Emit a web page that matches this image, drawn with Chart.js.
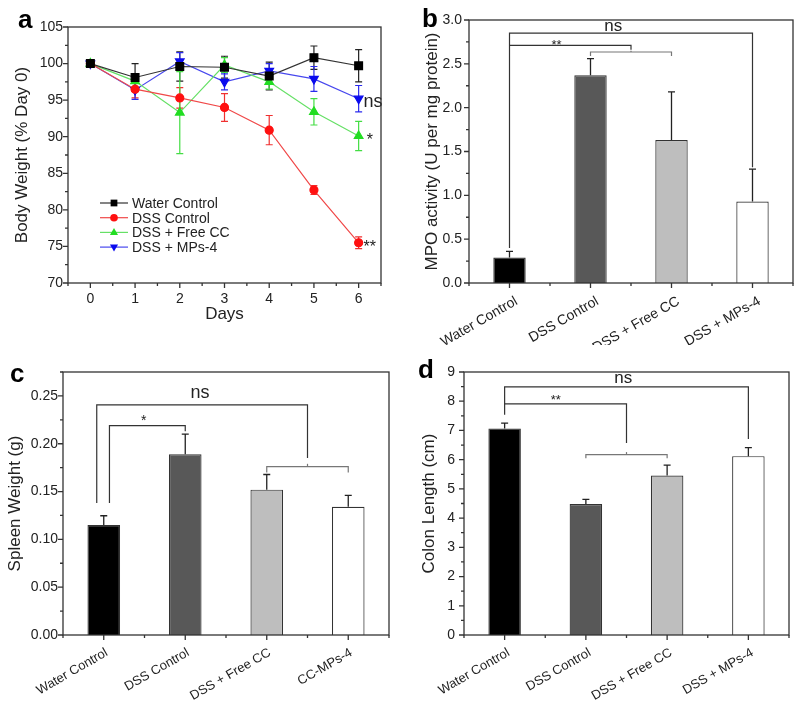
<!DOCTYPE html>
<html>
<head>
<meta charset="utf-8">
<script src="https://cdn.jsdelivr.net/npm/chart.js@4.4.1/dist/chart.umd.min.js"></script>
<style>
  html, body { margin: 0; padding: 0; background: #fff; }
  #wrap { position: relative; width: 800px; height: 713px; overflow: hidden; }
  .panel { position: absolute; }
</style>
</head>
<body>
<div id="wrap">
  <div class="panel" style="left:0;top:0;width:400px;height:330px"><canvas id="chartA"></canvas></div>
  <div class="panel" style="left:0;top:330px;width:400px;height:383px"><canvas id="chartC"></canvas></div>
  <div class="panel" style="left:400px;top:330px;width:400px;height:383px"><canvas id="chartD"></canvas></div>
  <div class="panel" style="left:400px;top:0;width:400px;height:345px"><canvas id="chartB"></canvas></div>
</div>
<script>
// ---- panel a: body weight over time ----
const days = ['0', '1', '2', '3', '4', '5', '6'];
const waterControl = [100, 98.1, 99.6, 99.5, 98.3, 100.8, 99.7];
const waterControlErr = [0, 1.9, 2.0, 1.5, 1.9, 1.6, 2.2];
const dssControl = [100, 96.5, 95.3, 94.0, 90.9, 82.7, 75.5];
const dssControlErr = [0, 1.2, 1.4, 1.9, 2.0, 0.6, 0.8];
const dssFreeCC = [100, 97.6, 93.3, 99.8, 97.5, 93.4, 90.1];
const dssFreeCCErr = [0, 1.0, 5.6, 1.0, 1.0, 1.8, 2.0];
const dssMPs4 = [100, 96.4, 100.3, 97.5, 99.0, 97.9, 95.2];
const dssMPs4Err = [0, 1.3, 1.2, 1.1, 1.0, 1.7, 1.8];
const notesA = [
  { text: 'ns', x: 6.11, y: 94.1, size: 18 },
  { text: '*', x: 6.18, y: 88.8, size: 16 },
  { text: '**', x: 6.11, y: 74.3, size: 16 }
];

// ---- panel b: MPO activity ----
const groupsB = ['Water Control', 'DSS Control', 'DSS + Free CC', 'DSS + MPs-4'];
const mpoActivity = [0.29, 2.37, 1.63, 0.93];
const mpoErr = [0.07, 0.19, 0.55, 0.37];
const bracketsB = [
  [[0, 0.40], [0, 2.85], [3, 2.85], [3, 1.32]],
  [[0, 2.71], [1.5, 2.71], [1.5, 2.66]]
];
const subBracketsB = [
  [[1, 2.59], [1, 2.635], [2, 2.635], [2, 2.59]],
  [[1.5, 2.635], [1.5, 2.65]]
];
const notesB = [
  { text: 'ns', x: 1.28, y: 2.875, size: 17 },
  { text: '**', x: 0.58, y: 2.67, size: 13 }
];

// ---- panel c: spleen weight ----
const groupsC = ['Water Control', 'DSS Control', 'DSS + Free CC', 'CC-MPs-4'];
const spleenWeight = [0.115, 0.189, 0.152, 0.134];
const spleenErr = [0.0097, 0.021, 0.0158, 0.012];
const bracketsC = [
  [[-0.086, 0.138], [-0.086, 0.2406], [2.5, 0.2406], [2.5, 0.185]],
  [[0.07, 0.138], [0.07, 0.219], [1, 0.219], [1, 0.213]]
];
const subBracketsC = [
  [[2, 0.170], [2, 0.176], [3, 0.176], [3, 0.170]],
  [[2.5, 0.176], [2.5, 0.179]]
];
const notesC = [
  { text: 'ns', x: 1.18, y: 0.248, size: 18 },
  { text: '*', x: 0.49, y: 0.220, size: 14 }
];

// ---- panel d: colon length ----
const groupsD = ['Water Control', 'DSS Control', 'DSS + Free CC', 'DSS + MPs-4'];
const colonLength = [7.07, 4.48, 5.46, 6.12];
const colonErr = [0.18, 0.16, 0.35, 0.29];
const bracketsD = [
  [[0, 7.54], [0, 8.49], [3, 8.49], [3, 6.71]],
  [[0, 7.91], [1.5, 7.91], [1.5, 6.57]]
];
const subBracketsD = [
  [[1, 6.05], [1, 6.17], [2, 6.17], [2, 6.05]],
  [[1.5, 6.17], [1.5, 6.26]]
];
const notesD = [
  { text: 'ns', x: 1.46, y: 8.62, size: 17 },
  { text: '**', x: 0.63, y: 7.90, size: 13 }
];

const barFills = ['#000000', '#585858', '#bebebe', '#ffffff'];

const FONT = "'Liberation Sans', Arial, sans-serif";
const AXIS = '#333333';
const TEXT = '#222222';

function drawMarker(ctx, style, x, y, r, color) {
  ctx.save();
  ctx.fillStyle = color;
  ctx.beginPath();
  if (style === 'rect') {
    ctx.rect(x - r * 0.75, y - r * 0.75, r * 1.5, r * 1.5);
  } else if (style === 'circle') {
    ctx.arc(x, y, r * 0.85, 0, Math.PI * 2);
  } else if (style === 'up') {
    ctx.moveTo(x, y - r); ctx.lineTo(x + r * 0.9, y + r * 0.6); ctx.lineTo(x - r * 0.9, y + r * 0.6);
  } else {
    ctx.moveTo(x, y + r); ctx.lineTo(x + r * 0.9, y - r * 0.6); ctx.lineTo(x - r * 0.9, y - r * 0.6);
  }
  ctx.closePath();
  ctx.fill();
  ctx.restore();
}

function polyline(ctx, chart, pts) {
  const xs = chart.scales.x, ys = chart.scales.y;
  ctx.beginPath();
  pts.forEach((p, i) => {
    const px = xs.getPixelForValue(p[0]), py = ys.getPixelForValue(p[1]);
    if (i === 0) ctx.moveTo(px, py); else ctx.lineTo(px, py);
  });
  ctx.stroke();
}

// everything the library does not draw on its own: frame, ticks, error bars, brackets, labels
function panelDecor(cfg) {
  return {
    id: 'decor',
    beforeDatasetsDraw(chart) {
      if (cfg.type !== 'line') return;
      const ctx = chart.ctx, ys = chart.scales.y;
      chart.data.datasets.forEach((ds, di) => {
        const meta = chart.getDatasetMeta(di);
        ctx.save();
        ctx.strokeStyle = ds.errColor;
        ctx.lineWidth = 1.2;
        ds.data.forEach((v, i) => {
          const e = ds.errs[i];
          if (!e) return;
          const x = meta.data[i].x;
          const y1 = ys.getPixelForValue(v - e), y2 = ys.getPixelForValue(v + e);
          ctx.beginPath();
          ctx.moveTo(x, y1); ctx.lineTo(x, y2);
          ctx.moveTo(x - 3.5, y1); ctx.lineTo(x + 3.5, y1);
          ctx.moveTo(x - 3.5, y2); ctx.lineTo(x + 3.5, y2);
          ctx.stroke();
        });
        ctx.restore();
      });
    },
    afterDatasetsDraw(chart) {
      const ctx = chart.ctx, xs = chart.scales.x, ys = chart.scales.y;
      if (cfg.type === 'bar') {
        const ds = chart.data.datasets[0];
        const meta = chart.getDatasetMeta(0);
        ctx.save();
        ctx.strokeStyle = '#222';
        ctx.lineWidth = 1.3;
        ds.data.forEach((v, i) => {
          const x = meta.data[i].x;
          const y1 = ys.getPixelForValue(v), y2 = ys.getPixelForValue(v + ds.errs[i]);
          ctx.beginPath();
          ctx.moveTo(x, y1); ctx.lineTo(x, y2);
          ctx.moveTo(x - 3.5, y2); ctx.lineTo(x + 3.5, y2);
          ctx.stroke();
        });
        ctx.restore();
      }
      ctx.save();
      ctx.lineWidth = 1.2;
      ctx.strokeStyle = '#333';
      (cfg.brackets || []).forEach(b => polyline(ctx, chart, b));
      ctx.strokeStyle = '#777';
      (cfg.subBrackets || []).forEach(b => polyline(ctx, chart, b));
      ctx.fillStyle = TEXT;
      ctx.textBaseline = 'alphabetic';
      ctx.textAlign = cfg.type === 'line' ? 'left' : 'center';
      (cfg.notes || []).forEach(n => {
        ctx.font = n.size + 'px ' + FONT;
        ctx.fillText(n.text, xs.getPixelForValue(n.x), ys.getPixelForValue(n.y));
      });
      ctx.restore();
    },
    afterDraw(chart) {
      const ctx = chart.ctx, a = chart.chartArea, xs = chart.scales.x, ys = chart.scales.y;
      ctx.save();
      ctx.strokeStyle = AXIS;
      ctx.lineWidth = 1.3;
      ctx.strokeRect(a.left, a.top, a.right - a.left, a.bottom - a.top);
      ctx.beginPath();
      ys.ticks.forEach(t => {
        const y = ys.getPixelForValue(t.value);
        ctx.moveTo(a.left, y); ctx.lineTo(a.left - 5, y);
      });
      for (let v = ys.min; v <= ys.max + 1e-9; v += cfg.minorY) {
        const y = ys.getPixelForValue(v);
        ctx.moveTo(a.left, y); ctx.lineTo(a.left - 3, y);
      }
      const n = chart.data.labels.length;
      for (let i = 0; i < n; i++) {
        const x = xs.getPixelForValue(i);
        ctx.moveTo(x, a.bottom); ctx.lineTo(x, a.bottom + 5);
      }
      for (let i = -0.5; i <= n - 0.5; i += 1) {
        const x = xs.getPixelForValue(i);
        ctx.moveTo(x, a.bottom); ctx.lineTo(x, a.bottom + 3);
      }
      ctx.stroke();

      if (cfg.legend) {
        ctx.font = '14px ' + FONT;
        ctx.textBaseline = 'middle';
        ctx.textAlign = 'left';
        chart.data.datasets.forEach((ds, i) => {
          const y = cfg.legend.y + i * cfg.legend.step;
          const x = cfg.legend.x;
          ctx.strokeStyle = ds.borderColor;
          ctx.lineWidth = 1.2;
          ctx.beginPath(); ctx.moveTo(x, y); ctx.lineTo(x + 28, y); ctx.stroke();
          drawMarker(ctx, ds.marker, x + 14, y, 4.5, ds.pointBackgroundColor);
          ctx.fillStyle = TEXT;
          ctx.fillText(ds.label, x + 32, y + 1);
        });
      }

      ctx.fillStyle = '#000';
      ctx.font = 'bold 26px ' + FONT;
      ctx.textAlign = 'left';
      ctx.textBaseline = 'alphabetic';
      ctx.fillText(cfg.letter.text, cfg.letter.x, cfg.letter.y);
      ctx.restore();
    }
  };
}

function yAxis(cfg) {
  return {
    min: cfg.min,
    max: cfg.max,
    grid: { display: false, drawTicks: false },
    border: { display: false },
    ticks: {
      stepSize: cfg.step,
      callback: v => v.toFixed(cfg.dec),
      font: { family: FONT, size: 14 },
      color: TEXT,
      padding: cfg.tickPad
    },
    afterBuildTicks: s => { s.ticks = s.ticks.filter(t => t.value <= cfg.tickMax + 1e-9); },
    title: {
      display: true,
      text: cfg.title,
      font: { family: FONT, size: 17 },
      color: TEXT,
      padding: { top: cfg.titlePad, bottom: 0 }
    },
    afterFit: s => { s.width = cfg.left; }
  };
}

function barChart(id, labels, values, errs, cfg) {
  return new Chart(document.getElementById(id), {
    type: 'bar',
    data: {
      labels: labels,
      datasets: [{
        data: values,
        errs: errs,
        backgroundColor: barFills,
        borderColor: '#333',
        borderWidth: 1.2,
        barPercentage: 0.4,
        categoryPercentage: 1
      }]
    },
    options: {
      responsive: true,
      maintainAspectRatio: false,
      animation: false,
      layout: { padding: cfg.pad },
      plugins: { legend: { display: false }, tooltip: { enabled: false } },
      scales: {
        x: {
          grid: { display: false, drawTicks: false },
          border: { display: false },
          ticks: {
            font: { family: FONT, size: cfg.labelSize },
            color: TEXT,
            minRotation: 30,
            maxRotation: 30,
            autoSkip: false,
            labelOffset: cfg.labelShift,
            padding: 10
          },
          afterFit: s => { s.height = cfg.bottom; }
        },
        y: yAxis(cfg)
      }
    },
    plugins: [panelDecor(cfg)]
  });
}

// panel a
new Chart(document.getElementById('chartA'), {
  type: 'line',
  data: {
    labels: days,
    datasets: [
      { label: 'Water Control', data: waterControl, errs: waterControlErr, marker: 'rect',
        borderColor: '#333333', pointBackgroundColor: '#000000', pointBorderColor: '#000000', errColor: '#222222',
        pointStyle: 'rect', pointRadius: 5.5, borderWidth: 1.2 },
      { label: 'DSS Control', data: dssControl, errs: dssControlErr, marker: 'circle',
        borderColor: '#f04848', pointBackgroundColor: '#ff1010', pointBorderColor: '#ff1010', errColor: '#f03030',
        pointStyle: 'circle', pointRadius: 4, borderWidth: 1.2 },
      { label: 'DSS + Free CC', data: dssFreeCC, errs: dssFreeCCErr, marker: 'up',
        borderColor: '#66e066', pointBackgroundColor: '#22dd22', pointBorderColor: '#22dd22', errColor: '#44dd44',
        pointStyle: 'triangle', pointRadius: 5, borderWidth: 1.2 },
      { label: 'DSS + MPs-4', data: dssMPs4, errs: dssMPs4Err, marker: 'down',
        borderColor: '#4848ee', pointBackgroundColor: '#0a0aee', pointBorderColor: '#0a0aee', errColor: '#2a2aee',
        pointStyle: 'triangle', pointRotation: 180, pointRadius: 5, borderWidth: 1.2 }
    ]
  },
  options: {
    responsive: true,
    maintainAspectRatio: false,
    animation: false,
    layout: { padding: { top: 27, right: 19, left: 0, bottom: 0 } },
    plugins: { legend: { display: false }, tooltip: { enabled: false } },
    scales: {
      x: {
        offset: true,
        grid: { display: false, drawTicks: false },
        border: { display: false },
        ticks: { font: { family: FONT, size: 14 }, color: TEXT, padding: 8 },
        title: { display: true, text: 'Days', font: { family: FONT, size: 17 }, color: TEXT, padding: { top: 0, bottom: 5 } },
        afterFit: s => { s.height = 47; }
      },
      y: yAxis({ min: 70, max: 105, step: 5, dec: 0, tickMax: 105, tickPad: 5,
        title: 'Body Weight (% Day 0)', titlePad: 12, left: 68 })
    }
  },
  plugins: [panelDecor({
    type: 'line', minorY: 2.5, notes: notesA,
    legend: { x: 100, y: 203, step: 14.7 },
    letter: { text: 'a', x: 18, y: 28 }
  })]
});

// panel b (canvas runs a little past the panel so the slanted labels are not cut)
barChart('chartB', groupsB, mpoActivity, mpoErr, {
  type: 'bar', min: 0, max: 3, step: 0.5, dec: 1, tickMax: 3, tickPad: 7,
  title: 'MPO activity (U per mg protein)', titlePad: 22, left: 69, bottom: 62,
  labelShift: 7, labelSize: 14,
  pad: { top: 20, right: 7, left: 0, bottom: 0 },
  minorY: 0.25, brackets: bracketsB, subBrackets: subBracketsB, notes: notesB,
  letter: { text: 'b', x: 22, y: 27 }
});

// panel c
barChart('chartC', groupsC, spleenWeight, spleenErr, {
  type: 'bar', min: 0, max: 0.275, step: 0.05, dec: 2, tickMax: 0.25, tickPad: 5,
  title: 'Spleen Weight (g)', titlePad: 5, left: 63, bottom: 78,
  labelShift: 3, labelSize: 13,
  pad: { top: 42, right: 11, left: 0, bottom: 0 },
  minorY: 0.025, brackets: bracketsC, subBrackets: subBracketsC, notes: notesC,
  letter: { text: 'c', x: 10, y: 52 }
});

// panel d
barChart('chartD', groupsD, colonLength, colonErr, {
  type: 'bar', min: 0, max: 9, step: 1, dec: 0, tickMax: 9, tickPad: 9,
  title: 'Colon Length (cm)', titlePad: 19, left: 64, bottom: 78,
  labelShift: 4, labelSize: 13,
  pad: { top: 42, right: 11, left: 0, bottom: 0 },
  minorY: 0.5, brackets: bracketsD, subBrackets: subBracketsD, notes: notesD,
  letter: { text: 'd', x: 18, y: 48 }
});
</script>
</body>
</html>
